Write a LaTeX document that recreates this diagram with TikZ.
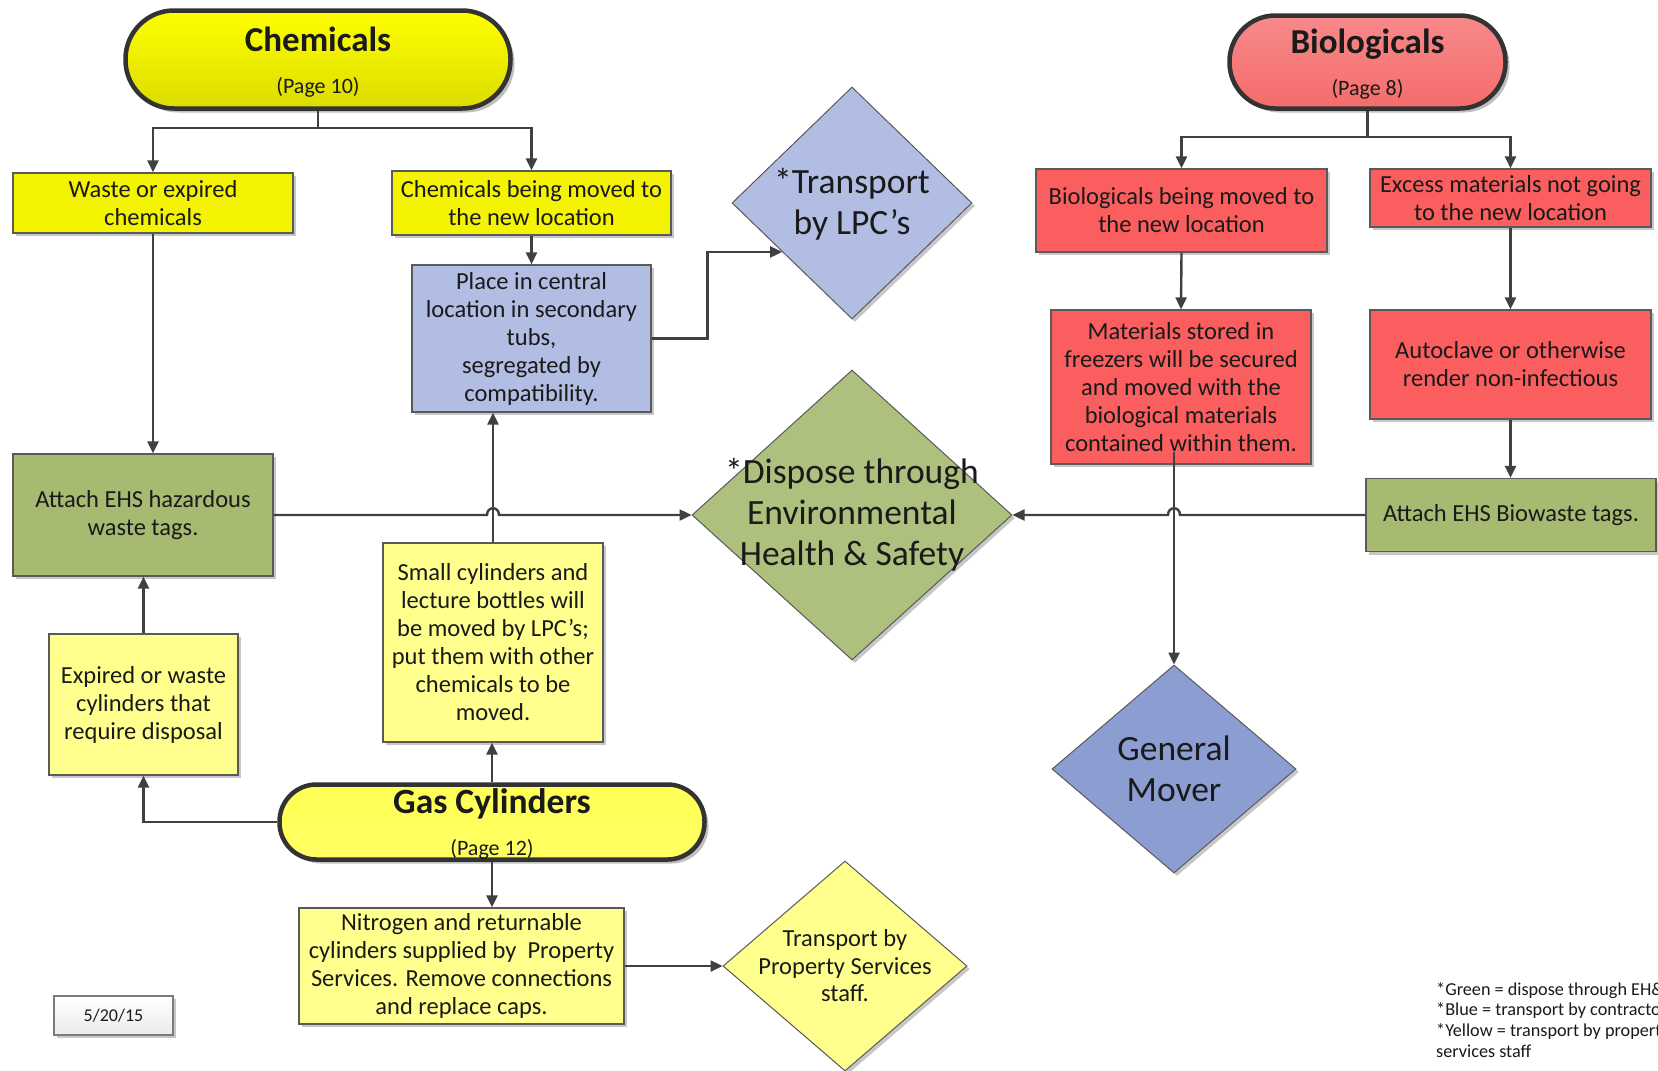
\documentclass[tikz,border=0pt]{standalone}
\usepackage{fontspec}
\setmainfont{Carlito}
\usetikzlibrary{shapes.geometric,arrows.meta,shadows,calc}
\definecolor{txt}{HTML}{1A1A1A}
\definecolor{edge}{HTML}{5A5A5A}
\definecolor{termedge}{HTML}{333333}
\definecolor{lnk}{HTML}{404040}
\definecolor{ylw}{HTML}{F4F400}
\definecolor{lylw}{HTML}{FFFF8E}
\definecolor{lblue}{HTML}{B2BDE3}
\definecolor{mblue}{HTML}{8C9DD2}
\definecolor{grn}{HTML}{A6BA72}
\definecolor{red}{HTML}{FA5E5E}
\definecolor{tred}{HTML}{F56C6C}
\begin{document}
\begin{tikzpicture}[x=1pt,y=-1pt,
  shd/.style={drop shadow={shadow xshift=3pt,shadow yshift=-3pt,fill=black,opacity=0.22}},
  box/.style={rectangle,draw=edge,line width=1.2pt,inner sep=0pt,align=center,
    font=\fontsize{24.5}{28}\selectfont,text=txt,shd},
  term/.style={rectangle,draw=termedge,line width=4.5pt,inner sep=0pt,align=center,
    font=\fontsize{22}{42}\selectfont,text=txt,
    drop shadow={shadow xshift=4pt,shadow yshift=-4pt,fill=black,opacity=0.25}},
  dia/.style={diamond,draw=edge,line width=1pt,inner sep=0pt,shd},
  big/.style={align=center,font=\fontsize{35.5}{41}\selectfont,text=txt},
  mid/.style={align=center,font=\fontsize{24.5}{27.5}\selectfont,text=txt},
  conn/.style={draw=lnk,line width=2.4pt},
  arr/.style={conn,-{Triangle[length=12pt,width=11pt]}}]
\useasboundingbox (0,0) rectangle (1658,1071);
\fill[white] (0,0) rectangle (1658,1071);

% terminators
\node[term,top color=yellow,bottom color=ylw!90!black,minimum width=385,minimum height=98,rounded corners=48.5] (chem) at (318,59.5)
  {\rule{0pt}{29pt}{\fontsize{35}{42}\selectfont\bfseries Chemicals}\\(Page 10)};
\node[term,top color=tred!80!white,bottom color=tred,minimum width=276,minimum height=93,rounded corners=46] (bio) at (1367.5,62)
  {\rule{0pt}{29pt}{\fontsize{35}{42}\selectfont\bfseries Biologicals}\\(Page 8)};
\node[term,top color=lylw!60!yellow,bottom color=lylw!70!yellow,minimum width=425,minimum height=75,rounded corners=37] (gas) at (492,822)
  {\rule{0pt}{29pt}{\fontsize{35.5}{42}\selectfont\bfseries Gas Cylinders}\\(Page 12)};

% boxes
\node[box,fill=ylw,minimum width=280,minimum height=60] (waste) at (153,203) {Waste or expired\\chemicals};
\node[box,fill=ylw,minimum width=279,minimum height=64] (chemmoved) at (531.5,203) {Chemicals being moved to\\the new location};
\node[box,fill=lblue,minimum width=239,minimum height=147] (place) at (531.5,338.5) {Place in central\\location in secondary\\tubs,\\segregated by\\compatibility.};
\node[box,fill=red,minimum width=291,minimum height=83] (biomoved) at (1181.5,210.5) {Biologicals being moved to\\the new location};
\node[box,fill=red,minimum width=281,minimum height=58] (excess) at (1510.5,198) {Excess materials not going\\to the new location};
\node[box,fill=red,minimum width=260,minimum height=154] (mat) at (1181,387) {Materials stored in\\freezers will be secured\\and moved with the\\biological materials\\contained within them.};
\node[box,fill=red,minimum width=281,minimum height=109] (auto) at (1510.5,364.5) {Autoclave or otherwise\\render non-infectious};
\node[box,fill=grn,minimum width=290,minimum height=73] (biow) at (1511,515) {Attach EHS Biowaste tags.};
\node[box,fill=grn,minimum width=260,minimum height=122] (haz) at (143,515) {Attach EHS hazardous\\waste tags.};
\node[box,fill=lylw,minimum width=220,minimum height=199] (small) at (493,642.5) {Small cylinders and\\lecture bottles will\\be moved by LPC’s;\\put them with other\\chemicals to be\\moved.};
\node[box,fill=lylw,minimum width=189,minimum height=141] (expired) at (143.5,704.5) {Expired or waste\\cylinders that\\require disposal};
\node[box,fill=lylw,minimum width=325,minimum height=116] (nitro) at (461.5,966) {Nitrogen and returnable\\cylinders supplied by~ Property\\Services. Remove connections\\and replace caps.};
\node[box,draw=edge!80,top color=white,bottom color=black!8,minimum width=119,minimum height=39,font=\fontsize{18}{20}\selectfont] (date) at (113.5,1015.5) {5/20/15};

% diamonds
\node[dia,fill=lblue,minimum width=240,minimum height=232] (lpc) at (852,203) {};
\node[big] (lpcT) at ([yshift=-1pt]lpc.center) {*Transport\\by LPC’s};
\node[dia,fill=grn!92!white,minimum width=320,minimum height=290] (disp) at (852,515) {};
\node[big] (dispT) at (disp.center) {*Dispose through\\Environmental\\Health \& Safety};
\node[dia,fill=mblue,minimum width=244,minimum height=208] (gm) at (1174,769) {};
\node[big] (gmT) at (gm.center) {General\\Mover};
\node[dia,fill=lylw,minimum width=244,minimum height=210] (tps) at (845,966) {};
\node[mid] (tpsT) at (tps.center) {Transport by\\Property Services\\staff.};

% legend
\node[anchor=north west,align=left,inner sep=0pt,font=\fontsize{18.2}{20.8}\selectfont,text=txt] (legend) at (1436,982)
  {*Green = dispose through EH\&S\\*Blue = transport by contractors\\*Yellow = transport by property\\services staff};

% connectors
\draw[arr] (chem.south) -- ++(0,17) -| (waste.north);
\draw[arr] (chem.south) -- ++(0,17) -| (chemmoved.north);
\draw[arr] (waste.south) -- (waste.south |- haz.north);
\draw[arr] (chemmoved.south) -- (place.north);
\draw[arr] (place.east) -- ++(56,0) |- (lpc.215);
\draw[arr] (bio.south) -- ++(0,26) -| (biomoved.north);
\draw[arr] (bio.south) -- ++(0,26) -| (excess.north);
\draw[arr] (biomoved.south) -- (mat.north);
\draw[arr] (excess.south) -- (auto.north);
\draw[arr] (auto.south) -- (auto.south |- biow.north);
\coordinate (matout) at (1174,452);
\draw[arr] (matout) -- (gm.north);
\draw[arr] (small.north) -- (small.north |- place.south);
\draw[arr] (gas.north) -- (gas.north |- small.south);
\draw[arr] (gas.west) -| (expired.south);
\draw[arr] (expired.north) -- (expired.north |- haz.south);
\draw[arr] (gas.south) -- (gas.south |- nitro.north);
\draw[arr] (nitro.east) -- (tps.west);
\draw[arr] (haz.east) -- (487,515) .. controls (487,506) and (499,506) .. (499,515) -- (disp.west);
\draw[arr] (biow.west) -- (1180,515) .. controls (1180,506) and (1168,506) .. (1168,515) -- (disp.east);
\end{tikzpicture}
\end{document}
